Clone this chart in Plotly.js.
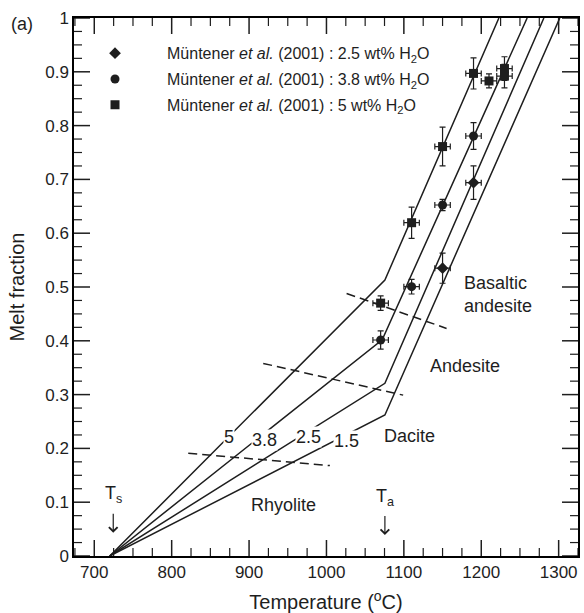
<!DOCTYPE html>
<html><head><meta charset="utf-8">
<script src="https://cdn.plot.ly/plotly-3.0.1.min.js"></script>
<style>html,body{margin:0;padding:0;background:#fff}#chart{width:584px;height:613px}</style>
</head><body><div id="chart"></div>
<script>
// Melt-fraction curves (T in °C, melt fraction), labelled by wt% H2O
const curve5_T   = [720, 1075.5, 1222.8];
const curve5_F   = [0, 0.513, 1];
const curve38_T  = [720, 1072, 1259.3];
const curve38_F  = [0, 0.402, 1];
const curve25_T  = [720, 1075.5, 1280.9];
const curve25_F  = [0, 0.321, 1];
const curve15_T  = [720, 1075.5, 1301.5];
const curve15_F  = [0, 0.262, 1];

// Dashed composition boundaries
const bound1_T = [821.4, 1004.4];  const bound1_F = [0.191, 0.168];
const bound2_T = [918.3, 1099.1];  const bound2_F = [0.358, 0.299];
const bound3_T = [1026, 1155.2];   const bound3_F = [0.488, 0.423];

// Müntener et al. (2001) experiments
const d25_T = [1150, 1190];
const d25_F = [0.535, 0.694];
const d25_err = [0.028, 0.031];
const d38_T = [1070, 1110, 1150, 1190];
const d38_F = [0.4015, 0.5006, 0.6524, 0.7807];
const d38_err = [0.017, 0.0136, 0.0106, 0.025];
const d5_T = [1070, 1110, 1150, 1190, 1210, 1230, 1230];
const d5_F = [0.470, 0.6195, 0.761, 0.897, 0.883, 0.906, 0.892];
const d5_err = [0.0136, 0.029, 0.036, 0.029, 0.013, 0.022, 0.022];
const T_err = 10;

// Axis ranges and tick values
const xRange = [673.8, 1325];
const yRange = [0, 1];
const xMajorTicks = [700, 800, 900, 1000, 1100, 1200, 1300];
const xMinorTicks = [675, 725, 750, 775, 825, 850, 875, 925, 950, 975, 1025, 1050, 1075, 1125, 1150, 1175, 1225, 1250, 1275, 1325];
const yMajorTicks = [0, 0.1, 0.2, 0.3, 0.4, 0.5, 0.6, 0.7, 0.8, 0.9, 1];
const yMinorTicks = [0.025, 0.05, 0.075, 0.125, 0.15, 0.175, 0.225, 0.25, 0.275, 0.325, 0.35, 0.375,
                     0.425, 0.45, 0.475, 0.525, 0.55, 0.575, 0.625, 0.65, 0.675, 0.725, 0.75, 0.775,
                     0.825, 0.85, 0.875, 0.925, 0.95, 0.975];

const legendNames = [
  'Müntener <i>et al.</i> (2001) : 2.5 wt% H<sub>2</sub>O',
  'Müntener <i>et al.</i> (2001) : 3.8 wt% H<sub>2</sub>O',
  'Müntener <i>et al.</i> (2001) : 5 wt% H<sub>2</sub>O'
];

const curveLabels = ['5', '3.8', '2.5', '1.5'];
const curveLabel_T = [874.0, 920.5, 976.5, 1026.0];
const curveLabel_F = [0.221, 0.216, 0.222, 0.214];

const K = '#1e1e1e';
const lineStyle = {color: K, width: 1.5};
const dashStyle = {color: K, width: 1.5, dash: '9px,5px'};

// plot area size in pixels (used to turn tick lengths in px into axis units)
const W = 584, H = 613, ML = 74, MR = 6, MT = 18, MB = 57;
const plotW = W - ML - MR, plotH = H - MT - MB;
const pxX = (xRange[1] - xRange[0]) / plotW;
const pxY = (yRange[1] - yRange[0]) / plotH;

function lineTrace(x, y, style) {
  return {x: x, y: y, mode: 'lines', line: style, showlegend: false, hoverinfo: 'skip'};
}
function dataTrace(x, y, err, sym, size, name, grp) {
  return {
    x: x, y: y, mode: 'markers', name: name, legendgroup: grp,
    marker: {symbol: sym, size: size, color: K},
    error_y: {type: 'data', array: err, visible: true, color: K, thickness: 1.2, width: 3},
    error_x: {type: 'constant', value: T_err, visible: true, color: K, thickness: 1.2, width: 3}
  };
}
// inside tick marks on all four sides, as line segments in axis units
function tickTrace(xt, yt, lenPx, width) {
  const x = [], y = [];
  const ly = lenPx * pxY, lx = lenPx * pxX;
  xt.forEach(v => {
    x.push(v, v, null, v, v, null);
    y.push(yRange[0], yRange[0] + ly, null, yRange[1], yRange[1] - ly, null);
  });
  yt.forEach(v => {
    x.push(xRange[0], xRange[0] + lx, null, xRange[1], xRange[1] - lx, null);
    y.push(v, v, null, v, v, null);
  });
  return {x: x, y: y, mode: 'lines', line: {color: K, width: width}, showlegend: false,
          hoverinfo: 'skip', connectgaps: false};
}

const traces = [
  tickTrace(xMajorTicks, yMajorTicks, 16, 1.5),
  tickTrace(xMinorTicks, yMinorTicks, 8, 1.2),
  lineTrace(curve5_T, curve5_F, lineStyle),
  lineTrace(curve38_T, curve38_F, lineStyle),
  lineTrace(curve25_T, curve25_F, lineStyle),
  lineTrace(curve15_T, curve15_F, lineStyle),
  lineTrace(bound1_T, bound1_F, dashStyle),
  lineTrace(bound2_T, bound2_F, dashStyle),
  lineTrace(bound3_T, bound3_F, dashStyle),
  dataTrace(d25_T, d25_F, d25_err, 'diamond', 9, legendNames[0], 'g1'),
  dataTrace(d38_T, d38_F, d38_err, 'circle', 9, legendNames[1], 'g2'),
  dataTrace(d5_T, d5_F, d5_err, 'square', 9, legendNames[2], 'g3')
];

const FONT = 'Liberation Sans, Arial, Helvetica, sans-serif';
const annotations = [];
curveLabels.forEach((t, i) => annotations.push({
  x: curveLabel_T[i], y: curveLabel_F[i], text: t, showarrow: false,
  font: {size: 18, color: K, family: FONT}, bgcolor: 'white', borderpad: 0
}));
const arrowCommon = {showarrow: true, ax: 0, ay: -38, arrowhead: 4, arrowsize: 1.4, arrowwidth: 1.2, arrowcolor: K, startstandoff: 6, font: {size: 18, color: K, family: FONT}};
annotations.push(
  {x: 1107.8, y: 0.223, text: 'Dacite', showarrow: false, font: {size: 18, color: K, family: FONT}},
  {x: 1178.8, y: 0.353, text: 'Andesite', showarrow: false, font: {size: 18, color: K, family: FONT}},
  {x: 1175, y: 0.486, text: 'Basaltic<br>andesite', showarrow: false, xanchor: 'left', align: 'left', font: {size: 18, color: K, family: FONT}},
  {x: 944.1, y: 0.095, text: 'Rhyolite', showarrow: false, font: {size: 18, color: K, family: FONT}},
  Object.assign({x: 724.5, y: 0.043, text: 'T<sub>s</sub>'}, arrowCommon),
  Object.assign({x: 1075.5, y: 0.039, text: 'T<sub>a</sub>'}, arrowCommon)
);

const layout = {
  width: W, height: H,
  margin: {l: ML, r: MR, t: MT, b: MB},
  font: {family: FONT, color: K},
  title: {text: '(a)', xref: 'container', yref: 'container', x: 22 / 584, y: 1 - 24 / 613,
          xanchor: 'center', yanchor: 'middle', font: {size: 18, color: K, family: FONT}},
  showlegend: true,
  legend: {x: -0.0218, y: 0.966, xanchor: 'left', yanchor: 'top', bgcolor: 'rgba(0,0,0,0)',
           font: {size: 16, color: K, family: FONT}, traceorder: 'grouped', tracegroupgap: 2, itemwidth: 94},
  xaxis: {
    range: xRange, dtick: 100, ticks: '',
    showline: true, linecolor: '#000', linewidth: 1.5, mirror: true,
    showgrid: false, zeroline: false,
    tickfont: {size: 17, color: K, family: FONT},
    title: {text: 'Temperature (<sup>o</sup>C)', font: {size: 20, color: K, family: FONT}}
  },
  yaxis: {
    range: yRange, dtick: 0.1, ticks: '',
    showline: true, linecolor: '#000', linewidth: 1.5, mirror: true,
    showgrid: false, zeroline: false,
    tickfont: {size: 17, color: K, family: FONT},
    title: {text: 'Melt fraction', font: {size: 20, color: K, family: FONT}}
  },
  annotations: annotations
};

Plotly.newPlot('chart', traces, layout, {displayModeBar: false});
</script>
</body></html>
